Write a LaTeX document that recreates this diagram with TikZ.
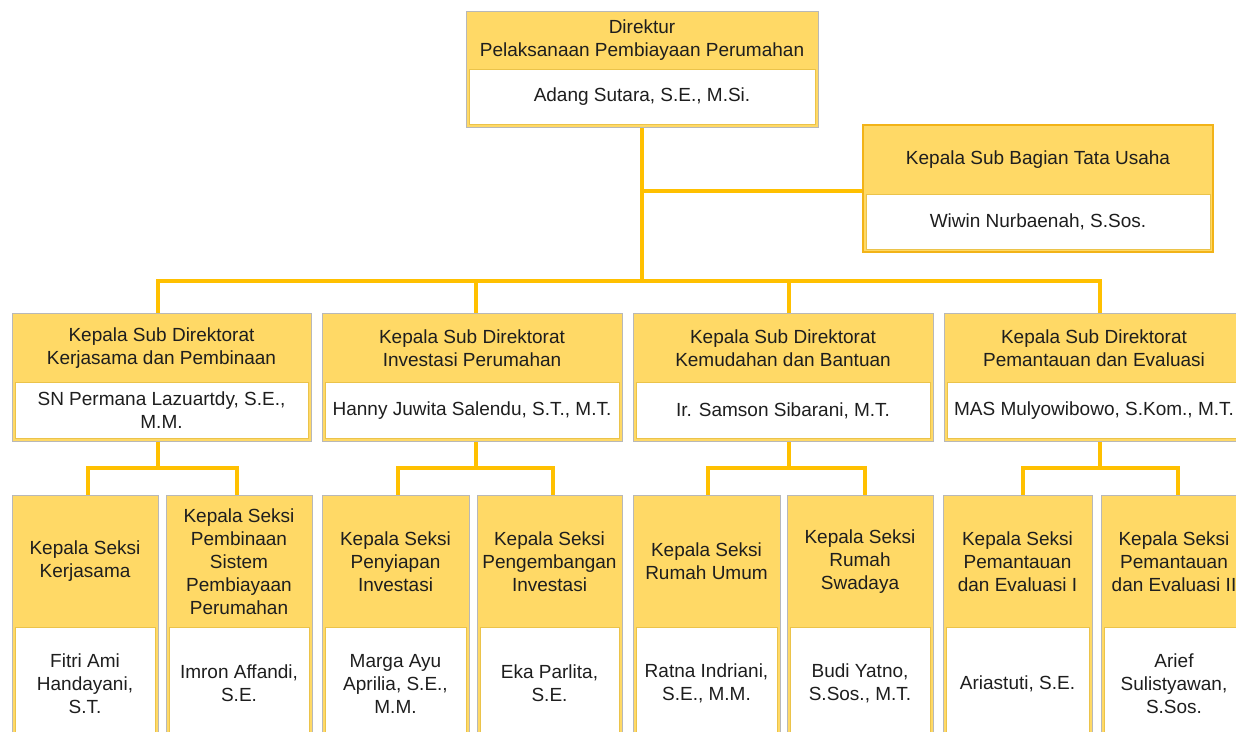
\documentclass[tikz,border=0pt]{standalone}
\usepackage{fontspec}
\setmainfont{Liberation Sans}
\definecolor{hdr}{HTML}{FFD966}
\definecolor{connc}{HTML}{FFC000}
\definecolor{edgegray}{HTML}{B8B8B8}
\definecolor{tuborder}{HTML}{F2B318}
\definecolor{innerb}{HTML}{EBC34A}
\definecolor{txtc}{HTML}{1E1E1E}
\newcommand{\orgbox}[9][]{%
  \node[outerbox, #1, minimum width={#5-#3}, minimum height={#6-#4}] (#2) at (#3,#4) {};
  \node[innerbox, minimum width={#5-#3-6}, minimum height={#6-#7-3}] (#2n) at ({#3+3},#7) {};
  \node[txt] (#2h) at ({(#3+#5)/2},{(#4+#7)/2+0.5}) {#8};
  \node[txt] (#2t) at ({(#3+#5)/2},{(#7+#6-3)/2+0.5}) {#9};
}
\tikzset{
  outerbox/.style={draw=edgegray, fill=hdr, line width=0.8pt, inner sep=0pt, outer sep=0pt, anchor=north west},
  innerbox/.style={draw=innerb, fill=white, line width=0.7pt, inner sep=0pt, outer sep=0pt, anchor=north west},
  tubox/.style={draw=tuborder, line width=2pt},
  txt/.style={font=\fontsize{19}{23}\selectfont, align=center, text=txtc, inner sep=0pt},
  conn/.style={draw=edgegray, double=connc, double distance=3.6pt, line width=0.6pt, line join=miter, line cap=butt}
}
\begin{document}
\begin{tikzpicture}[x=1pt, y=-1pt]
\useasboundingbox (0,0) rectangle (1236,731);
\clip (0,0) rectangle (1236,731);
\fill[white] (0,0) rectangle (1236,731);

% junction coordinates
\coordinate (bus) at (0,281);
\coordinate (sub) at (0,468);

% ---------- connectors (drawn first, below boxes) ----------
\coordinate (topS) at (642,127);
\coordinate (tuW) at (863,191);
\draw[conn] (topS) -- (topS |- bus);
\draw[conn] (topS |- tuW) -- (tuW);
\coordinate (b1) at (158,313);
\coordinate (b2) at (476,313);
\coordinate (b3) at (789,313);
\coordinate (b4) at (1100,313);
\draw[conn] (b1) -- (b1 |- bus) -- (b4 |- bus) -- (b4);
\draw[conn] (b2) -- (b2 |- bus);
\draw[conn] (b3) -- (b3 |- bus);

% second level drops
\coordinate (s1) at (158,441);
\coordinate (s2) at (476,441);
\coordinate (s3) at (789,441);
\coordinate (s4) at (1100,441);
\coordinate (c1a) at (88,495);   \coordinate (c1b) at (237,495);
\coordinate (c2a) at (398,495);  \coordinate (c2b) at (553,495);
\coordinate (c3a) at (708,495);  \coordinate (c3b) at (865,495);
\coordinate (c4a) at (1023,495); \coordinate (c4b) at (1178,495);
\foreach \s/\a/\b in {s1/c1a/c1b, s2/c2a/c2b, s3/c3a/c3b, s4/c4a/c4b}{
  \draw[conn] (\s) -- (\s |- sub);
  \draw[conn] (\a) -- (\a |- sub) -- (\b |- sub) -- (\b);
}

% ---------- boxes ----------
\orgbox{dir}{466}{11}{818}{127}{69}{Direktur\\Pelaksanaan Pembiayaan Perumahan}{Adang Sutara, S.E., M.Si.}

\orgbox[tubox]{tu}{863}{125}{1213}{252}{194}{Kepala Sub Bagian Tata Usaha}{Wiwin Nurbaenah, S.Sos.}

\orgbox{k1}{12}{313}{311}{441}{382}{Kepala Sub Direktorat\\Kerjasama dan Pembinaan}{SN Permana Lazuartdy, S.E.,\\M.M.}
\orgbox{k2}{322}{313}{622}{441}{382}{Kepala Sub Direktorat\\Investasi Perumahan}{Hanny Juwita Salendu, S.T., M.T.}
\orgbox{k3}{633}{313}{933}{441}{382}{Kepala Sub Direktorat\\Kemudahan dan Bantuan}{Ir. Samson Sibarani, M.T.}
\orgbox{k4}{944}{313}{1244}{441}{382}{Kepala Sub Direktorat\\Pemantauan dan Evaluasi}{MAS Mulyowibowo, S.Kom., M.T.}

\orgbox{s1a}{12}{495}{158}{742}{627}{Kepala Seksi\\Kerjasama}{Fitri Ami\\Handayani,\\S.T.}
\orgbox{s1b}{166}{495}{312}{742}{627}{Kepala Seksi\\Pembinaan\\Sistem\\Pembiayaan\\Perumahan}{Imron Affandi,\\S.E.}
\orgbox{s2a}{322}{495}{469}{742}{627}{Kepala Seksi\\Penyiapan\\Investasi}{Marga Ayu\\Aprilia, S.E.,\\M.M.}
\orgbox{s2b}{477}{495}{622}{742}{627}{Kepala Seksi\\Pengembangan\\Investasi}{Eka Parlita,\\S.E.}
\orgbox{s3a}{633}{495}{780}{742}{627}{Kepala Seksi\\Rumah Umum}{Ratna Indriani,\\S.E., M.M.}
\orgbox{s3b}{787}{495}{933}{742}{627}{Kepala Seksi\\Rumah\\Swadaya}{Budi Yatno,\\S.Sos., M.T.}
\orgbox{s4a}{943}{495}{1092}{742}{627}{Kepala Seksi\\Pemantauan\\dan Evaluasi I}{Ariastuti, S.E.}
\orgbox{s4b}{1101}{495}{1247}{742}{627}{Kepala Seksi\\Pemantauan\\dan Evaluasi II}{Arief\\Sulistyawan,\\S.Sos.}
\end{tikzpicture}
\end{document}
